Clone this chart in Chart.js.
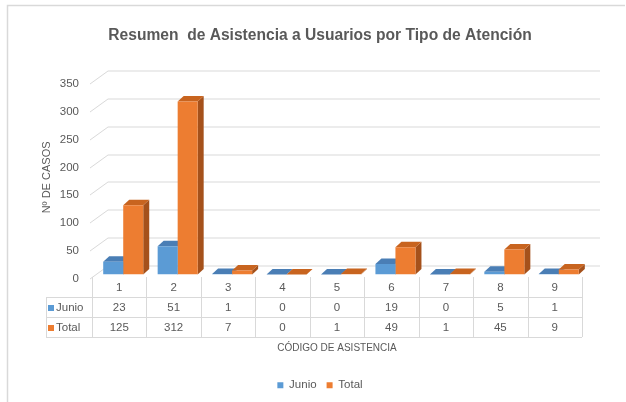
<!DOCTYPE html>
<html>
<head>
<meta charset="utf-8">
<script src="https://cdn.jsdelivr.net/npm/chart.js@4/dist/chart.umd.min.js"></script>
<style>
html, body { margin: 0; padding: 0; background: #fff; }
</style>
</head>
<body>
<canvas id="chart" width="626" height="402"></canvas>
<script>
// data
const categories = ['1', '2', '3', '4', '5', '6', '7', '8', '9'];
const junio = [23, 51, 1, 0, 0, 19, 0, 5, 1];
const total = [125, 312, 7, 0, 1, 49, 1, 45, 9];

const GRID = '#D9D9D9';
const TEXT = '#595959';
const BLUE = '#5B9BD5';
const ORANGE = '#ED7D31';

// darker faces for the fake 3D look
const faces = {};
faces[BLUE] = { top: '#4A7EB5', side: '#3F6E9E' };
faces[ORANGE] = { top: '#C8641F', side: '#A5511B' };

Chart.defaults.font.family = '"Liberation Sans", Arial, sans-serif';
Chart.defaults.color = TEXT;

// outer frame of the Excel chart object
const frame = {
    id: 'frame',
    beforeDraw(chart) {
        const ctx = chart.ctx;
        ctx.save();
        ctx.fillStyle = '#fff';
        ctx.fillRect(0, 0, chart.width, chart.height);
        ctx.strokeStyle = GRID;
        ctx.lineWidth = 1.5;
        ctx.beginPath();
        ctx.moveTo(7.5, chart.height);
        ctx.lineTo(7.5, 5.5);
        ctx.lineTo(625, 5.5);
        ctx.stroke();
        ctx.restore();
    }
};

// back wall gridlines + top/side faces of the bars
const depth = {
    id: 'depth',
    beforeDatasetsDraw(chart) {
        const { ctx, chartArea, scales } = chart;
        const y = scales.y;
        ctx.save();
        ctx.strokeStyle = GRID;
        ctx.lineWidth = 1;
        y.ticks.forEach(t => {
            const py = Math.round(y.getPixelForValue(t.value)) + 0.5;
            ctx.beginPath();
            ctx.moveTo(chartArea.left - 6, py + 3.5);
            ctx.lineTo(chartArea.left + 12, py - 9.5);
            ctx.lineTo(chartArea.right + 14, py - 9.5);
            ctx.stroke();
        });

        const dx = 6, dy = -5.5;
        chart.data.datasets.forEach((ds, di) => {
            const c = faces[ds.backgroundColor];
            chart.getDatasetMeta(di).data.forEach(bar => {
                const x0 = bar.x - bar.width / 2;
                const x1 = bar.x + bar.width / 2;
                const top = Math.min(bar.y, bar.base);
                const base = bar.base;
                ctx.fillStyle = c.side;
                ctx.beginPath();
                ctx.moveTo(x1, top);
                ctx.lineTo(x1 + dx, top + dy);
                ctx.lineTo(x1 + dx, base + dy);
                ctx.lineTo(x1, base);
                ctx.closePath();
                ctx.fill();
                ctx.fillStyle = c.top;
                ctx.beginPath();
                ctx.moveTo(x0, top);
                ctx.lineTo(x1, top);
                ctx.lineTo(x1 + dx, top + dy);
                ctx.lineTo(x0 + dx, top + dy);
                ctx.closePath();
                ctx.fill();
            });
        });
        ctx.restore();
    }
};

// data table under the plot
const dataTable = {
    id: 'dataTable',
    afterDraw(chart) {
        const { ctx, scales } = chart;
        const x = scales.x;
        const half = (x.getPixelForValue(1) - x.getPixelForValue(0)) / 2;
        const cx = categories.map((c, i) => x.getPixelForValue(i) - 4);
        const left = cx[0] - half;
        const right = cx[cx.length - 1] + half;
        const keyLeft = 46;
        const r0 = 277, r1 = 297, r2 = 317, r3 = 337;

        ctx.save();
        ctx.strokeStyle = GRID;
        ctx.lineWidth = 1;
        ctx.beginPath();
        for (let i = 0; i <= categories.length; i++) {
            const vx = Math.round(left + i * 2 * half) + 0.5;
            ctx.moveTo(vx, r0);
            ctx.lineTo(vx, r3);
        }
        ctx.moveTo(keyLeft + 0.5, r1);
        ctx.lineTo(keyLeft + 0.5, r3);
        [r1, r2, r3].forEach(ry => {
            ctx.moveTo(keyLeft, ry + 0.5);
            ctx.lineTo(right, ry + 0.5);
        });
        ctx.stroke();

        ctx.fillStyle = TEXT;
        ctx.font = '11.5px "Liberation Sans", Arial, sans-serif';
        ctx.textAlign = 'center';
        ctx.textBaseline = 'middle';
        categories.forEach((c, i) => ctx.fillText(c, cx[i], (r0 + r1) / 2 + 1));

        chart.data.datasets.forEach((ds, di) => {
            const ry = di === 0 ? (r1 + r2) / 2 + 1 : (r2 + r3) / 2 + 1;
            ctx.fillStyle = ds.backgroundColor;
            ctx.fillRect(keyLeft + 2, ry - 3, 6, 6);
            ctx.fillStyle = TEXT;
            ctx.textAlign = 'left';
            ctx.fillText(ds.label, keyLeft + 10, ry);
            ctx.textAlign = 'center';
            ds.data.forEach((v, i) => ctx.fillText(String(v), cx[i], ry));
        });

        ctx.font = '10px "Liberation Sans", Arial, sans-serif';
        ctx.fillText('CÓDIGO DE ASISTENCIA', (left + right) / 2, 348);
        ctx.restore();
    }
};

new Chart(document.getElementById('chart'), {
    type: 'bar',
    data: {
        labels: categories,
        datasets: [
            { label: 'Junio', data: junio, backgroundColor: BLUE, categoryPercentage: 0.735, barPercentage: 1 },
            { label: 'Total', data: total, backgroundColor: ORANGE, categoryPercentage: 0.735, barPercentage: 1 }
        ]
    },
    options: {
        responsive: false,
        animation: false,
        layout: { padding: { left: 20, right: 6, top: 0, bottom: 1 } },
        plugins: {
            title: {
                display: true,
                text: 'Resumen  de Asistencia a Usuarios por Tipo de Atención',
                color: TEXT,
                font: { size: 15.6, weight: 'bold' },
                padding: { top: 26, bottom: 35.6 }
            },
            legend: {
                position: 'bottom',
                labels: { boxWidth: 6, boxHeight: 6, color: TEXT, font: { size: 11.5 }, padding: 10 }
            },
            tooltip: { enabled: false }
        },
        scales: {
            x: {
                ticks: { display: false },
                grid: { display: false, drawTicks: false },
                border: { display: false },
                afterFit(s) { s.height = 95; }
            },
            y: {
                min: 0,
                max: 350,
                ticks: { stepSize: 50, color: TEXT, font: { size: 11.5 }, padding: 17, labelOffset: 4 },
                grid: { display: false, drawTicks: false },
                border: { display: false },
                title: { display: true, text: 'Nº DE CASOS', color: TEXT, font: { size: 11 }, padding: { top: 20, bottom: 0 } },
                afterFit(s) { s.width = 76; }
            },
            y2: {
                position: 'right',
                ticks: { display: false },
                grid: { display: false, drawTicks: false },
                border: { display: false },
                afterFit(s) { s.width = 34; }
            }
        }
    },
    plugins: [frame, depth, dataTable]
});
</script>
</body>
</html>
